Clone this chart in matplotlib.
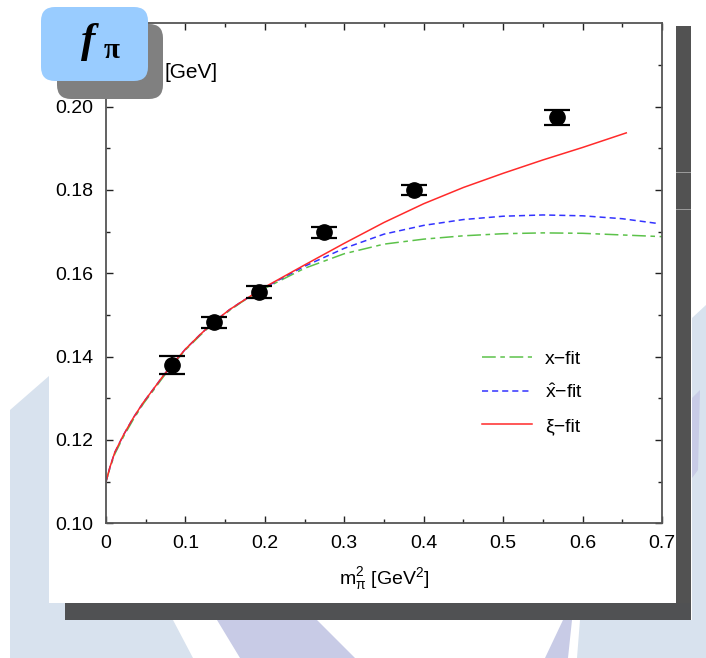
import numpy as np
import matplotlib.pyplot as plt
from matplotlib.patches import Rectangle, Polygon, FancyBboxPatch

plt.rcParams['font.family'] = ['Liberation Sans', 'DejaVu Sans']
plt.rcParams['mathtext.fontset'] = 'custom'
plt.rcParams['mathtext.rm'] = 'Liberation Sans'
plt.rcParams['mathtext.it'] = 'Liberation Sans'
plt.rcParams['mathtext.sf'] = 'Liberation Sans'
plt.rcParams['mathtext.bf'] = 'Liberation Sans:bold'

# lattice data points (m_pi^2 [GeV^2], f_pi [GeV])
mpi2 = [0.0830, 0.1360, 0.1920, 0.2740, 0.3880, 0.5680]
fpi = [0.1380, 0.1482, 0.1555, 0.1698, 0.1800, 0.1975]
fpi_err = [0.0021, 0.0013, 0.0015, 0.0014, 0.0013, 0.0018]

# fit curves: common low-mass part, then the three branches
x_low = [0.0, 0.005, 0.011, 0.022, 0.034, 0.047, 0.060, 0.072, 0.083, 0.100,
         0.118, 0.135, 0.155, 0.170, 0.190]
f_low = [0.1100, 0.1135, 0.1170, 0.1212, 0.1252, 0.1290, 0.1323, 0.1354, 0.1380, 0.1418,
         0.1452, 0.1482, 0.1512, 0.1531, 0.1555]
f_low_x = [0.1100, 0.1133, 0.1166, 0.1208, 0.1248, 0.1287, 0.1320, 0.1351, 0.1378, 0.1416,
           0.1450, 0.1480, 0.1510, 0.1530, 0.1554]

x_tail = [0.20, 0.25, 0.30, 0.35, 0.40, 0.45, 0.50, 0.55, 0.60, 0.65, 0.70]
xfit_tail = [0.1564, 0.1612, 0.1647, 0.1670, 0.1682, 0.1690, 0.1695, 0.1697, 0.1696, 0.1692, 0.1688]
xhat_tail_x = [0.20, 0.25, 0.30, 0.35, 0.40, 0.45, 0.50, 0.55, 0.60, 0.65, 0.693]
xhat_tail = [0.1566, 0.1617, 0.1660, 0.1694, 0.1715, 0.1729, 0.1737, 0.1740, 0.1738, 0.1731, 0.1720]
xi_tail_x = [0.20, 0.25, 0.30, 0.35, 0.40, 0.45, 0.50, 0.55, 0.60, 0.655]
xi_tail = [0.1567, 0.1620, 0.1672, 0.1722, 0.1767, 0.1806, 0.1840, 0.1872, 0.1902, 0.1937]

x_ticks = [0, 0.1, 0.2, 0.3, 0.4, 0.5, 0.6, 0.7]
x_ticklabels = ['0', '0.1', '0.2', '0.3', '0.4', '0.5', '0.6', '0.7']
y_ticks = [0.10, 0.12, 0.14, 0.16, 0.18, 0.20]
y_ticklabels = ['0.10', '0.12', '0.14', '0.16', '0.18', '0.20']

W, H = 706, 658
fig = plt.figure(figsize=(W / 100, H / 100), dpi=100)
fig.patch.set_facecolor('white')

# slide background (pixel coordinates)
bg = fig.add_axes([0, 0, 1, 1], zorder=0)
bg.set_xlim(0, W)
bg.set_ylim(H, 0)
bg.axis('off')
pale = '#d8e2ee'
lav = '#c8cbe6'
bg.add_patch(Polygon([(10, 410), (49, 376), (200, 376), (200, 620), (173, 620), (193, 658), (10, 658)],
                     color=pale, lw=0))
bg.add_patch(Polygon([(217, 620), (317, 620), (355, 658), (240, 658)], color=lav, lw=0))
bg.add_patch(Polygon([(563, 620), (572, 620), (568, 658), (545, 658)], color=lav, lw=0))
bg.add_patch(Polygon([(580, 620), (706, 620), (706, 658), (577, 658)], color=pale, lw=0))
bg.add_patch(Polygon([(692, 318), (706, 305), (706, 658), (692, 658)], color=pale, lw=0))
bg.add_patch(Polygon([(692, 398), (700, 390), (698, 470), (692, 478)], color=lav, lw=0))
bg.add_patch(Rectangle((49, 0), 627, 603, color='white', lw=0))
bg.add_patch(Rectangle((676, 26), 15, 594, color='#525252', lw=0))
bg.add_patch(Rectangle((65, 603), 626, 17, color='#505153', lw=0))
bg.add_patch(Rectangle((676, 171.5), 15, 1.2, color='#9a9a9a', lw=0))
bg.add_patch(Rectangle((676, 208.5), 15, 1.2, color='#9a9a9a', lw=0))

# main plot
ax = fig.add_axes([106 / W, (H - 523.3) / H, 556 / W, 500 / H], zorder=1)
ax.set_facecolor('white')

l1, = ax.plot(x_low + x_tail, f_low_x + xfit_tail, color='#5cc24a', lw=1.1,
              dashes=[9, 3, 3, 3], label='x\u2212fit')
l2, = ax.plot(x_low + xhat_tail_x, f_low + xhat_tail, color='#3333ff', lw=1.1,
              dashes=[4, 2.6], label='$\\hat{\\mathrm{x}}$\u2212fit')
l3, = ax.plot(x_low + xi_tail_x, f_low + xi_tail, color='#ff2a2a', lw=1.1,
              label='\u03be\u2212fit')
ax.errorbar(mpi2, fpi, yerr=fpi_err, fmt='o', color='black', markersize=11,
            capsize=9.5, capthick=1.6, elinewidth=1.2, zorder=3)

ax.set_xlim(0, 0.7)
ax.set_ylim(0.10, 0.22)
ax.set_xticks(x_ticks)
ax.set_xticklabels(x_ticklabels)
ax.set_xticks(np.arange(0.05, 0.7, 0.1), minor=True)
ax.set_yticks(y_ticks)
ax.set_yticklabels(y_ticklabels)
ax.set_yticks(np.arange(0.11, 0.22, 0.02), minor=True)
ax.tick_params(which='both', direction='in', top=True, right=True, width=1.0, color='#222222')
ax.tick_params(which='major', length=5)
ax.tick_params(which='minor', length=3)
ax.tick_params(axis='x', labelsize=14, pad=8.5)
ax.tick_params(axis='y', labelsize=14, pad=9)
for s in ax.spines.values():
    s.set_linewidth(1.3)
    s.set_color('#555555')

ax.set_xlabel('m$_\\pi^2$ [GeV$^2$]', fontsize=14, labelpad=9)

ax.legend(handles=[l1, l2, l3], loc='upper left', bbox_to_anchor=(0.676, 0.346),
          frameon=False, fontsize=14, handlelength=2.58, handletextpad=0.67,
          borderpad=0, borderaxespad=0, labelspacing=0.79)

# f_pi label box on top
ov = fig.add_axes([0, 0, 1, 1], zorder=2)
ov.set_xlim(0, W)
ov.set_ylim(H, 0)
ov.axis('off')
ov.add_patch(FancyBboxPatch((57, 24), 106, 75, boxstyle='round,pad=0,rounding_size=14',
                            color='#808080', lw=0))
ov.add_patch(FancyBboxPatch((41, 7), 107, 74, boxstyle='round,pad=0,rounding_size=14',
                            color='#99ccff', lw=0))
ov.text(88, 42, 'f', fontsize=31, family='Liberation Serif', weight='bold', style='italic',
        ha='center', va='center')
ov.text(112, 51, '\u03c0', fontsize=21, family='Liberation Serif', weight='bold',
        ha='center', va='center')
ov.text(165, 72, '[GeV]', fontsize=15, ha='left', va='center')

plt.savefig('out.png', dpi=100)
